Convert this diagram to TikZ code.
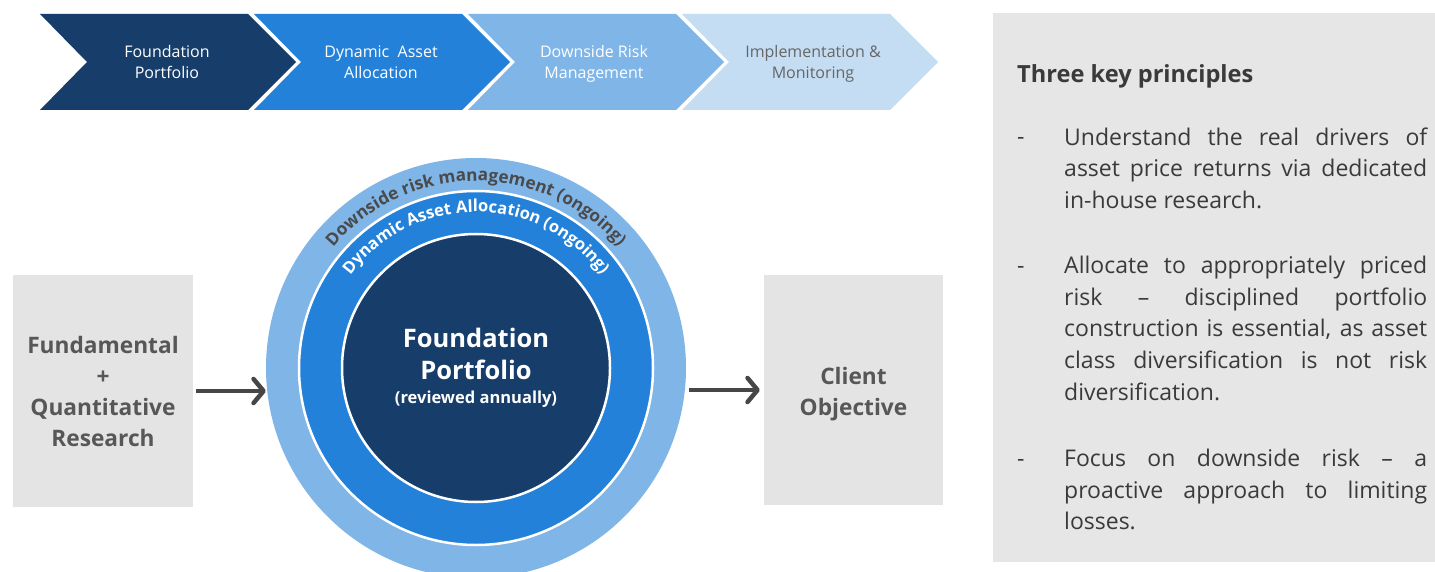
\documentclass[tikz,border=0pt]{standalone}
\usepackage{fontspec}
\setmainfont{Open Sans}
\usetikzlibrary{arrows.meta,decorations.text}
\definecolor{navy}{HTML}{173E6B}
\definecolor{blueB}{HTML}{2381D9}
\definecolor{blueC}{HTML}{80B5E8}
\definecolor{blueD}{HTML}{C4DDF3}
\definecolor{boxgray}{HTML}{E4E4E4}
\definecolor{panelgray}{HTML}{E6E6E6}
\definecolor{boxtext}{HTML}{575757}
\definecolor{arrowgray}{HTML}{464646}
\definecolor{ringtext}{HTML}{4A4A4A}
\definecolor{paneltext}{HTML}{3A3A3A}
\definecolor{chevtextgray}{HTML}{666666}
\begin{document}
\begin{tikzpicture}[x=1pt,y=1pt,
  chevtext/.style={align=center, inner sep=0, font=\fontsize{16}{21.5}\selectfont},
  graybox/.style={fill=boxgray, inner sep=0, align=center, text=boxtext,
    font=\bfseries\fontsize{22.7}{31}\selectfont},
  arr/.style={draw=arrowgray, line width=4.5pt,
    -{Straight Barb[length=10pt,width=24pt,line width=4.5pt,round]}},
  para/.style={anchor=north west, inner sep=0, text width=363pt, align=justify,
    text=paneltext, font=\fontsize{23}{31.8}\selectfont},
  bulletdash/.style={anchor=base west, inner sep=0, text=paneltext, font=\fontsize{23}{31.8}\selectfont}
]
\useasboundingbox (0,0) rectangle (1435,-572);
\fill[white] (0,0) rectangle (1435,-572);

% chevrons
\foreach \x/\c in {40/navy, 254/blueB, 468/blueC, 682/blueD}
  \fill[\c] (\x,-14) -- ++(208,0) -- ++(48,-48) -- ++(-48,-48) -- ++(-208,0) -- ++(47,48) -- cycle;
\node[chevtext, text=white] (ch1) at (167,-64) {Foundation\\Portfolio\vphantom{g}};
\node[chevtext, text=white] (ch2) at (381,-64) {Dynamic\ \ Asset\\Allocation\vphantom{g}};
\node[chevtext, text=white] (ch3) at (594,-64) {Downside Risk\\Management};
\node[chevtext, text=chevtextgray] (ch4) at (813,-64) {Implementation \&\\Monitoring};

% rings
\node[circle, fill=blueC, inner sep=0, minimum size=420pt] (outer) at (476,-368) {};
\node[circle, fill=blueB, draw=white, line width=2.5pt, inner sep=0, minimum size=354pt] (middle) at (476,-368) {};
\node[circle, fill=navy, draw=white, line width=2.5pt, inner sep=0, minimum size=268pt,
  align=center, text=white, font=\bfseries\fontsize{25.5}{32}\selectfont] (inner) at (476,-368)
  {Foundation\\Portfolio\\[-8pt]{\fontsize{16.5}{20}\selectfont(reviewed annually)}};

\path[decorate, decoration={text along path, text align=center, text color=ringtext,
   text={|\bfseries\fontsize{17.2}{17.2}\selectfont|Downside risk management (ongoing)}}]
  ([shift={(160:187)}]outer.center) arc[start angle=160, end angle=20, radius=187];
\path[decorate, decoration={text along path, text align=center, text color=white,
   text={|\bfseries\fontsize{16.6}{16.6}\selectfont|Dynamic Asset Allocation (ongoing)}}]
  ([shift={(160:156)}]outer.center) arc[start angle=160, end angle=20, radius=156];

% side boxes
\node[graybox, minimum width=180pt, minimum height=232pt] (fund) at (103,-391)
  {Fundamental\\+\\Quantitative\\Research};
\node[graybox, minimum width=179pt, minimum height=230pt] (client) at (853.5,-390)
  {\rule{0pt}{25pt}Client\\Objective\vphantom{g}};

\draw[arr, shorten <=3pt] (fund.east) -- (fund.east -| outer.west);
\draw[arr, shorten <=3pt, shorten >=4pt] (client.west -| outer.east) -- (client.west);

% right panel
\node[fill=panelgray, inner sep=0, minimum width=442pt, minimum height=549pt] (panel) at (1214,-287.5) {};
\node[anchor=north west, inner sep=0, text=paneltext, font=\bfseries\fontsize{23.6}{28}\selectfont]
  (title) at (1017,-62) {\rule{0pt}{20pt}Three key principles};

\node[bulletdash] (d1) at (1017,-145) {-};
\node[bulletdash] (d2) at (1017,-273) {-};
\node[bulletdash] (d3) at (1017,-466) {-};
\node[para] (p1) at (1064,-123) {\tolerance=10000\hyphenpenalty=10000%
  \rule{0pt}{22pt}Understand the real drivers of\linebreak
  asset price returns via dedicated\linebreak in-house research.};
\node[para] (p2) at (1064,-251) {\tolerance=10000\hyphenpenalty=10000%
  \rule{0pt}{22pt}Allocate to appropriately priced\linebreak
  risk \textendash{} disciplined portfolio\linebreak construction is essential, as asset\linebreak
  class diversification is not risk\linebreak diversification.};
\node[para] (p3) at (1064,-444) {\tolerance=10000\hyphenpenalty=10000%
  \rule{0pt}{22pt}Focus on downside risk \textendash{} a\linebreak
  proactive approach to limiting\linebreak losses.};
\end{tikzpicture}
\end{document}
